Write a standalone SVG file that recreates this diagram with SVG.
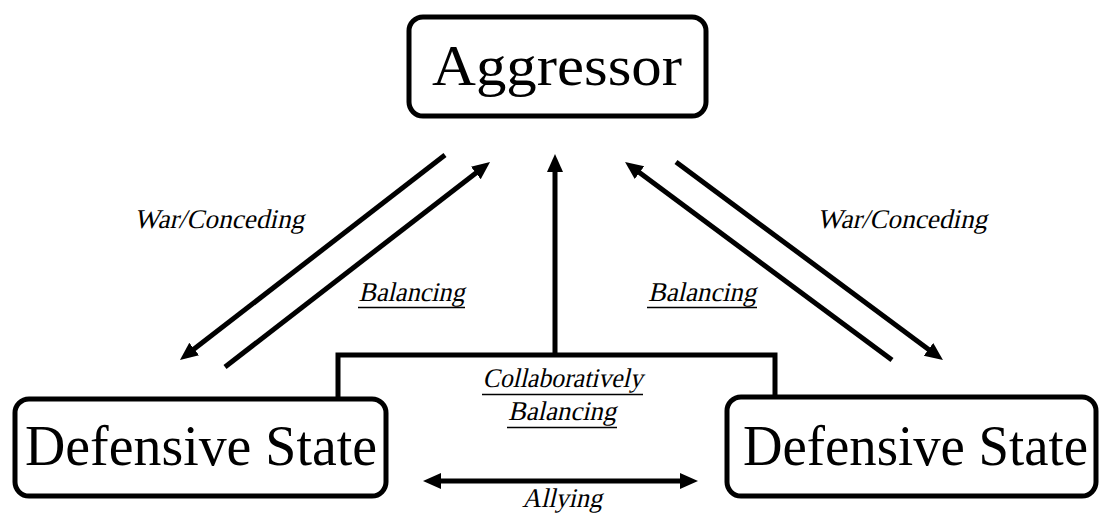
<svg xmlns="http://www.w3.org/2000/svg" width="1099" height="518" viewBox="0 0 1099 518">
  <defs>
    <style>
      .box { fill: #ffffff; stroke: #000000; stroke-width: 5; }
      .node-label { font-family: "Liberation Serif", "Times New Roman", serif; font-size: 56px; fill: #000000; text-anchor: middle; }
      .edge { fill: none; stroke: #000000; stroke-width: 5; }
      .edge-label { font-family: "Liberation Serif", "Times New Roman", serif; font-size: 27px; fill: #000000; text-anchor: middle; }
      .uline { stroke: #000000; stroke-width: 1.3; }
    </style>
    <marker id="head" markerUnits="userSpaceOnUse" markerWidth="20" markerHeight="20" viewBox="0 -10 20 20" refX="1" refY="0" orient="auto-start-reverse">
      <path d="M0,-8 L18,0 L0,8 z" fill="#000000"/>
    </marker>
  </defs>

  <!-- connectors -->
  <g id="connectors">
    <!-- Aggressor <-> left defensive state -->
    <line class="edge" x1="445" y1="155" x2="193.4" y2="349.6" marker-end="url(#head)"/>
    <line class="edge" x1="225" y1="367" x2="476.6" y2="172.4" marker-end="url(#head)"/>
    <!-- Aggressor <-> right defensive state -->
    <line class="edge" x1="892" y1="360" x2="638.7" y2="172.1" marker-end="url(#head)"/>
    <line class="edge" x1="676" y1="162" x2="929.3" y2="349.9" marker-end="url(#head)"/>
    <!-- joint balancing bracket -->
    <path class="edge" d="M338,399 V355 H775 V397"/>
    <line class="edge" x1="555" y1="355" x2="555" y2="171" marker-end="url(#head)"/>
    <!-- alliance between defensive states -->
    <line class="edge" x1="440" y1="481" x2="681" y2="481" marker-start="url(#head)" marker-end="url(#head)"/>

    <!-- labels, slanted by a skew so the serif face reads as italic -->
    <text class="edge-label" transform="translate(219,228) skewX(-13)" textLength="170" lengthAdjust="spacing">War/Conceding</text>
    <text class="edge-label" transform="translate(902,228) skewX(-13)" textLength="170" lengthAdjust="spacing">War/Conceding</text>
    <text class="edge-label" transform="translate(411.5,301) skewX(-13)" textLength="106" lengthAdjust="spacingAndGlyphs">Balancing</text>
    <line class="uline" x1="358" y1="307.5" x2="465" y2="307.5"/>
    <text class="edge-label" transform="translate(702,301) skewX(-13)" textLength="108" lengthAdjust="spacingAndGlyphs">Balancing</text>
    <line class="uline" x1="647" y1="307.5" x2="757" y2="307.5"/>
    <text class="edge-label" transform="translate(562.5,387) skewX(-13)" textLength="160" lengthAdjust="spacingAndGlyphs">Collaboratively</text>
    <line class="uline" x1="482" y1="394.5" x2="643" y2="394.5"/>
    <text class="edge-label" transform="translate(562,420) skewX(-13)" textLength="108" lengthAdjust="spacingAndGlyphs">Balancing</text>
    <line class="uline" x1="507" y1="427.5" x2="617" y2="427.5"/>
    <text class="edge-label" transform="translate(562,507) skewX(-13)" textLength="80" lengthAdjust="spacingAndGlyphs">Allying</text>
  </g>

  <!-- nodes -->
  <g id="aggressor">
    <rect class="box" x="409" y="17" width="297" height="99" rx="14"/>
    <text class="node-label" x="557" y="85" font-size="57" textLength="250" lengthAdjust="spacingAndGlyphs">Aggressor</text>
  </g>
  <g id="defensive-left">
    <rect class="box" x="15" y="399" width="371" height="97" rx="14"/>
    <text class="node-label" x="201" y="465" textLength="352" lengthAdjust="spacingAndGlyphs">Defensive State</text>
  </g>
  <g id="defensive-right">
    <rect class="box" x="727" y="397" width="369" height="99" rx="14"/>
    <text class="node-label" x="915.5" y="465" textLength="345" lengthAdjust="spacingAndGlyphs">Defensive State</text>
  </g>
</svg>
